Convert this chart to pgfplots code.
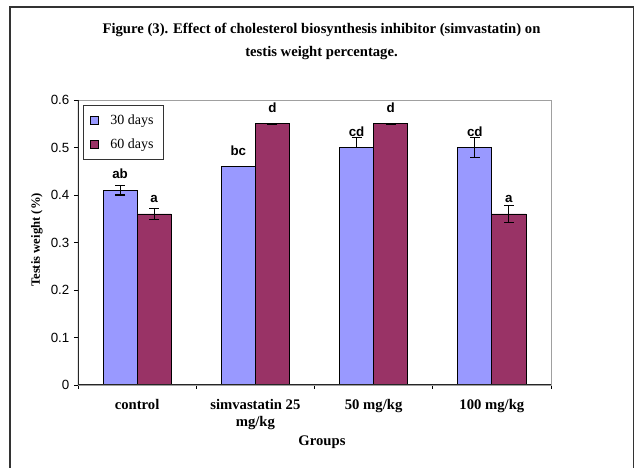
\documentclass[border=0pt]{standalone}
\usepackage{fontspec}
\setmainfont{Liberation Serif}
\newfontfamily\arial{Liberation Sans}
\usepackage{pgfplots}
\pgfplotsset{compat=1.18}
\definecolor{cblue}{HTML}{9999FF}
\definecolor{cmaroon}{HTML}{993366}
\definecolor{framegray}{HTML}{A0A0A0}
\begin{document}
\begin{tikzpicture}[x=0.75pt,y=0.75pt]
\path[use as bounding box] (0,0) rectangle (640,468);
\draw[line width=1.2pt, color=black!80] (10,-10) -- (10,461) -- (633.5,461) -- (633.5,-10);
\node[font=\bfseries\fontsize{11}{13}\selectfont] at (321.5,438) {Figure (3). Effect of cholesterol biosynthesis inhibitor (simvastatin) on};
\node[font=\bfseries\fontsize{11}{13}\selectfont] at (321.5,415) {testis weight percentage.};
\node[font=\bfseries\fontsize{9.5}{11}\selectfont, rotate=90] at (37,228) {Testis weight (\%)};
\node[font=\bfseries\fontsize{11}{13}\selectfont] at (322,26) {Groups};
\begin{axis}[
  at={(58.5pt,62.25pt)}, anchor=south west,
  scale only axis, width=354.75pt, height=213.75pt,
  ybar=0pt, bar width=0.288,
  xmin=-0.5, xmax=3.5, ymin=0, ymax=0.6,
  xtick={0,1,2,3},
  xticklabels={control, {simvastatin 25\\mg/kg}, 50 mg/kg, 100 mg/kg},
  xticklabel style={font=\bfseries\fontsize{11}{12.75}\selectfont, align=center, yshift=-4.5pt},
  major x tick style={draw=none},
  minor xtick={-0.5,0.5,1.5,2.5,3.5},
  minor x tick style={black, line width=0.6pt},
  minor tick length=3pt,
  ytick={0,0.1,0.2,0.3,0.4,0.5,0.6},
  major tick length=3pt,
  y tick style={black, line width=0.6pt},
  tick align=outside,
  xtick pos=lower, ytick pos=left,
  /pgf/number format/assume math mode=true,
  /pgf/number format/.cd, fixed, precision=1, /pgfplots/.cd,
  yticklabel style={font=\arial\fontsize{10}{12}\selectfont},
  axis line style={framegray, line width=0.6pt},
  legend style={at={(0.0106,0.982)}, anchor=north west, draw=black!80, line width=0.5pt,
    font=\fontsize{10.5}{12}\selectfont, row sep=5pt, inner xsep=5pt, inner ysep=5pt,
    legend cell align=left},
  legend image code/.code={\draw[#1, line width=0.5pt] (0pt,-3pt) rectangle (6pt,3pt); \path[draw=none, fill=none] (0pt,0pt) -- (13pt,0pt);},
  point meta=explicit symbolic,
  nodes near coords,
  every node near coord/.append style={anchor=base, yshift=8.6pt, font=\arial\bfseries\fontsize{10}{12}\selectfont, black},
  error bars/y dir=both, error bars/y explicit,
  error bars/error bar style={black, line width=0.8pt},
  error bars/error mark options={rotate=90, mark size=3.75pt, black, line width=0.8pt},
]
\addplot[fill=cblue, draw=black, line width=0.6pt] coordinates {
  (0,0.41) +- (0,0.01) [ab]
  (1,0.46) +- (0,0) [bc]
  (2,0.50) += (0,0.021) -= (0,0) [cd]
  (3,0.50) +- (0,0.021) [cd]
};
\addplot[fill=cmaroon, draw=black, line width=0.6pt] coordinates {
  (0,0.36) +- (0,0.011) [a]
  (1,0.55) +- (0,0.001) [d]
  (2,0.55) +- (0,0.001) [d]
  (3,0.36) +- (0,0.018) [a]
};
\legend{30 days, 60 days}
\draw[black!85, line width=0.8pt] (rel axis cs:0,1) -- (rel axis cs:0,0) -- (rel axis cs:1,0);
\end{axis}
\end{tikzpicture}
\end{document}
